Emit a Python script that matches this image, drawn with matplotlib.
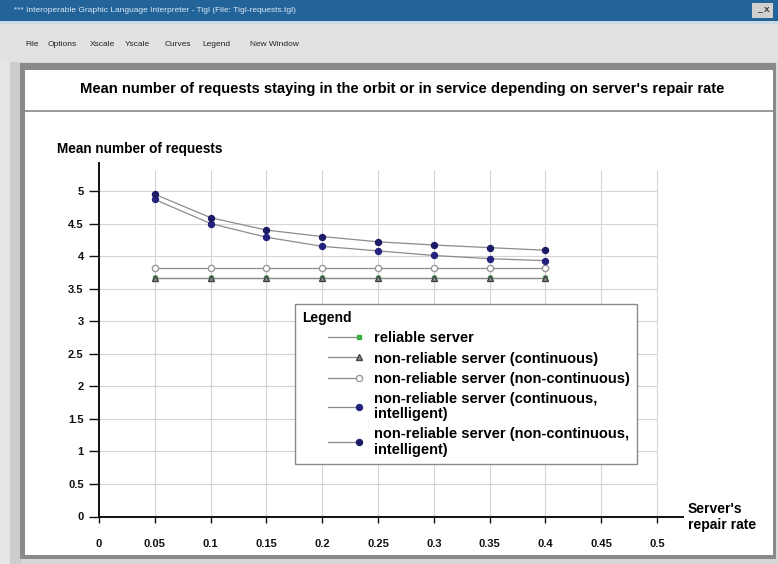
import numpy as np
import matplotlib.pyplot as plt
from matplotlib.patches import Rectangle
from matplotlib.legend_handler import HandlerLine2D
from matplotlib.ticker import FuncFormatter

# ==================== Data ====================
repair_rate = [0.05, 0.10, 0.15, 0.20, 0.25, 0.30, 0.35, 0.40]
reliable = [3.66, 3.66, 3.66, 3.66, 3.66, 3.66, 3.66, 3.66]
nonrel_cont = [3.66, 3.66, 3.66, 3.66, 3.66, 3.66, 3.66, 3.66]
nonrel_noncont = [3.82, 3.82, 3.82, 3.82, 3.82, 3.82, 3.82, 3.82]
nonrel_cont_int = [4.87, 4.50, 4.29, 4.15, 4.08, 4.01, 3.96, 3.93]
nonrel_noncont_int = [4.95, 4.59, 4.40, 4.30, 4.22, 4.17, 4.13, 4.09]

x_ticks = [0, 0.05, 0.1, 0.15, 0.2, 0.25, 0.3, 0.35, 0.4, 0.45, 0.5]
y_ticks = [0, 0.5, 1, 1.5, 2, 2.5, 3, 3.5, 4, 4.5, 5]

labels = ["reliable server",
          "non-reliable server (continuous)",
          "non-reliable server (non-continuous)",
          "non-reliable server (continuous,\nintelligent)",
          "non-reliable server (non-continuous,\nintelligent)"]

TITLE = "Mean number of requests staying in the orbit or in service depending on server's repair rate"
WIN_TITLE = "*** Interoperable Graphic Language Interpreter - Tigl (File: Tigl-requests.tgl)"
MENU = [("File", 25), ("Options", 48), ("Xscale", 90), ("Yscale", 125),
        ("Curves", 165), ("Legend", 202), ("New Window", 250)]
# ==============================================

W, H = 778, 564
FONT = "Liberation Sans"

fig = plt.figure(figsize=(W / 100, H / 100), dpi=100)
fig.patch.set_facecolor("#d8d8d8")


def fx(px):
    return px / W


def fy(py):
    return 1 - py / H


def box(x0, y0, x1, y1, **kw):
    r = Rectangle((fx(x0), fy(y1)), (x1 - x0) / W, (y1 - y0) / H,
                  transform=fig.transFigure, zorder=-10, **kw)
    fig.patches.append(r)


# ---------------- window chrome ----------------
box(0, 0, W, 21, facecolor="#22649a", edgecolor="none")
box(0, 21, W, 24, facecolor="#c9d9e6", edgecolor="none")
box(0, 24, W, 62, facecolor="#e2e2e2", edgecolor="none")
box(0, 62, 10, H, facecolor="#e6e6e6", edgecolor="none")
box(10, 62, 22, H, facecolor="#cdcdcd", edgecolor="none")
box(20, 63, 776, 559, facecolor="#8a8a8a", edgecolor="none")
box(25, 70, 773, 555, facecolor="white", edgecolor="none")
box(25, 110, 773, 111.5, facecolor="#9a9a9a", edgecolor="none")
box(752, 3, 773, 18, facecolor="#d0d0d0", edgecolor="none")

fig.text(fx(14), fy(10), WIN_TITLE, color="#dde8f2", fontsize=6,
         family=FONT, va="center")
fig.text(fx(757), fy(10), "_ X", color="#333333", fontsize=6,
         family=FONT, weight="bold", va="center")
for name, x in MENU:
    fig.text(fx(x), fy(44), name, fontsize=6, family=FONT, va="center",
             color="#222222")

fig.text(fx(402), fy(89), TITLE, fontsize=10.6, family=FONT, weight="bold",
         ha="center", va="center")

# ---------------- chart ----------------
x0_px, x1_px = 99, 683
y0_px, y1_px = 516.5, 163
ax = fig.add_axes([fx(x0_px), fy(y0_px), (x1_px - x0_px) / W, (y0_px - y1_px) / H])
ax.set_xlim(0, (x1_px - x0_px) / 1116.0)
ax.set_ylim(0, (y0_px - y1_px) / 65.1)
ax.patch.set_alpha(0)

ax.vlines(x_ticks[1:], 0, 5.32, color="#d4d4d4", lw=0.8, zorder=0)
ax.hlines(y_ticks[1:], 0, 0.5, color="#d4d4d4", lw=0.8, zorder=0)

line_kw = dict(color="#8c8c8c", lw=0.9)
h1, = ax.plot(repair_rate, reliable, marker="s", ms=2.5, mfc="#3cb043", mec="#3cb043", **line_kw)
h2, = ax.plot(repair_rate, nonrel_cont, marker="^", ms=4.5, mfc="#8a8a8a", mec="#444444", **line_kw)
h3, = ax.plot(repair_rate, nonrel_noncont, marker="o", ms=4.5, mfc="white", mec="#9a9a9a", **line_kw)
h4, = ax.plot(repair_rate, nonrel_cont_int, marker="o", ms=4.3, mfc="#23237e", mec="#23237e", **line_kw)
h5, = ax.plot(repair_rate, nonrel_noncont_int, marker="o", ms=4.3, mfc="#1b1b66", mec="#1b1b66", **line_kw)

for s in ["top", "right"]:
    ax.spines[s].set_visible(False)
for s in ["left", "bottom"]:
    ax.spines[s].set_linewidth(1.4)
    ax.spines[s].set_color("#111111")

ax.set_xticks(x_ticks)
ax.set_yticks(y_ticks)
ax.xaxis.set_major_formatter(FuncFormatter(lambda v, _: f"{v:g}"))
ax.yaxis.set_major_formatter(FuncFormatter(lambda v, _: f"{v:g}"))
ax.tick_params(axis="x", length=4, width=1, pad=12, labelsize=8, colors="#111111")
ax.tick_params(axis="y", length=7, width=1, pad=4, labelsize=8, colors="#111111")
for lab in ax.get_xticklabels() + ax.get_yticklabels():
    lab.set_fontweight("bold")
    lab.set_family(FONT)

fig.text(fx(57), fy(149), "Mean number of requests", fontsize=9.8, family=FONT,
         weight="bold", va="center")
fig.text(fx(688), fy(517), "Server's\nrepair rate", fontsize=10, family=FONT,
         weight="bold", va="center", linespacing=1.1)


# ---------------- legend ----------------
class EndMarker(HandlerLine2D):
    """Short line in the right part of the handle, marker at its right end."""
    def create_artists(self, legend, orig_handle, xdescent, ydescent,
                       width, height, fontsize, trans):
        arts = super().create_artists(legend, orig_handle, xdescent, ydescent,
                                      width, height, fontsize, trans)
        line = arts[0]
        xd = line.get_xdata()
        start = xd[0] + 0.45 * (xd[-1] - xd[0])
        line.set_xdata([start, (start + xd[-1]) / 2, xd[-1]])
        line.set_markevery([2])
        return arts


leg = ax.legend([h1, h2, h3, h4, h5], labels, title="Legend",
                loc="upper left", bbox_to_anchor=(fx(295), fy(304)),
                bbox_transform=fig.transFigure, borderaxespad=0,
                prop={"family": FONT, "weight": "bold", "size": 10.5},
                title_fontproperties={"family": FONT, "weight": "bold", "size": 10},
                handlelength=3.9, handletextpad=1.0, labelspacing=0.42,
                borderpad=0.5, fancybox=False, framealpha=1,
                edgecolor="#8a8a8a", numpoints=1,
                handler_map={h: EndMarker() for h in [h1, h2, h3, h4, h5]})
leg._legend_box.align = "left"
leg.get_frame().set_linewidth(1.0)
for t in leg.get_texts():
    t.set_linespacing(1.12)

fig.savefig("out.png", dpi=100)
